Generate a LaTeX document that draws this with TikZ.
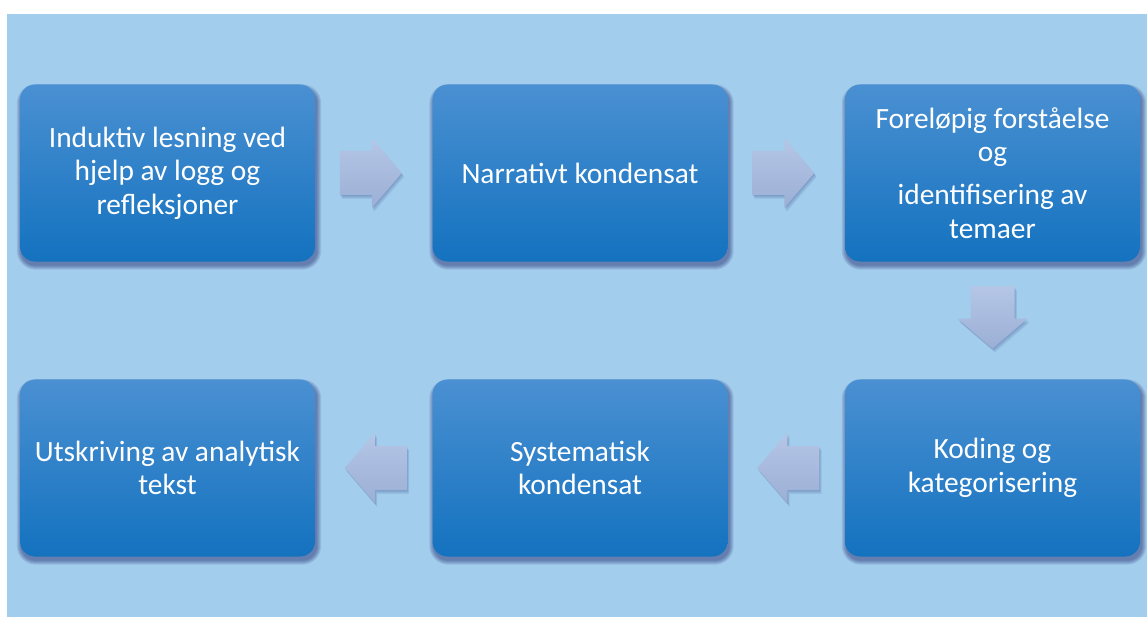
\documentclass[tikz,border=0pt]{standalone}
\usepackage{fontspec}
\setmainfont{Carlito}
\usetikzlibrary{calc}
\pgfdeclarelayer{bglayer}
\pgfdeclarelayer{shadowlayer}
\pgfsetlayers{bglayer,shadowlayer,main}
\definecolor{bgblue}{RGB}{162,205,237}
\definecolor{boxtop}{RGB}{74,144,210}
\definecolor{boxbot}{RGB}{20,114,191}
\definecolor{arrtop}{RGB}{181,198,230}
\definecolor{arrbot}{RGB}{155,175,213}
\tikzset{
  stepbox/.style={rectangle, rounded corners=15bp, minimum width=295bp, minimum height=177bp,
    top color=boxtop, bottom color=boxbot, draw=none, text=white, align=center,
    font=\fontsize{29.5}{33.5}\selectfont, inner sep=2bp},
  boxshadow/.style={fill=black!70!blue, opacity=0.09},
  arrowfill/.style={top color=arrtop, bottom color=arrbot, draw=none},
  arrowshadow/.style={arrowfill/.style={fill=black!70!blue, opacity=0.06}},
  rarrow/.pic={\path[arrowfill] (-31,-22) -- (1,-22) -- (1,-35) -- (31,0) -- (1,35) -- (1,22) -- (-31,22) -- cycle;},
  larrow/.pic={\path[arrowfill] (31,-22) -- (-1,-22) -- (-1,-35) -- (-31,0) -- (-1,35) -- (-1,22) -- (31,22) -- cycle;},
  darrow/.pic={\path[arrowfill] (-22,-31) -- (-22,1) -- (-35,1) -- (0,31) -- (35,1) -- (22,1) -- (22,-31) -- cycle;}
}
\begin{document}
\begin{tikzpicture}[x=1bp,y=-1bp]
\useasboundingbox (0,0) rectangle (1147,617);
\begin{pgfonlayer}{bglayer}
\fill[white] (0,0) rectangle (1147,617);
\fill[bgblue] (7,14) rectangle (1147,617);
\end{pgfonlayer}
\node[stepbox] (b1) at (167.5,173) {Induktiv lesning ved\\hjelp av logg og\\refleksjoner};
\node[stepbox] (b2) at (580,173) {Narrativt kondensat};
\node[stepbox] (b3) at (992.5,173) {Foreløpig forståelse\\og\\[10bp]identifisering av\\temaer};
\node[stepbox] (b4) at (992.5,468) {Koding og\\kategorisering};
\node[stepbox] (b5) at (580,468) {Systematisk\\kondensat};
\node[stepbox] (b6) at (167.5,468) {Utskriving av analytisk\\tekst};
\begin{pgfonlayer}{shadowlayer}
\foreach \n in {b1,b2,b3,b4,b5,b6}{
  \foreach \d in {0,1,...,4}{
    \fill[boxshadow, rounded corners=15+\d] ($(\n.north west)+(1-\d,4-\d)$) rectangle ($(\n.south east)+(2+\d,4+\d)$);
  }
}
\foreach \s in {1,2,3,4}{
  \pic[arrowshadow, shift={(\s*0.6,\s)}] at ($(b1.east)!0.5!(b2.west)+(-3,0)$) {rarrow};
  \pic[arrowshadow, shift={(\s*0.6,\s)}] at ($(b2.east)!0.5!(b3.west)+(-3,0)$) {rarrow};
  \pic[arrowshadow, shift={(\s*0.6,\s)}] at ($(b3.south)!0.5!(b4.north)+(0,-3)$) {darrow};
  \pic[arrowshadow, shift={(\s*0.6,\s)}] at ($(b4.west)!0.5!(b5.east)+(2,0)$) {larrow};
  \pic[arrowshadow, shift={(\s*0.6,\s)}] at ($(b5.west)!0.5!(b6.east)+(2,0)$) {larrow};
}
\end{pgfonlayer}
\pic at ($(b1.east)!0.5!(b2.west)+(-3,0)$) {rarrow};
\pic at ($(b2.east)!0.5!(b3.west)+(-3,0)$) {rarrow};
\pic at ($(b3.south)!0.5!(b4.north)+(0,-3)$) {darrow};
\pic at ($(b4.west)!0.5!(b5.east)+(2,0)$) {larrow};
\pic at ($(b5.west)!0.5!(b6.east)+(2,0)$) {larrow};
\end{tikzpicture}
\end{document}
